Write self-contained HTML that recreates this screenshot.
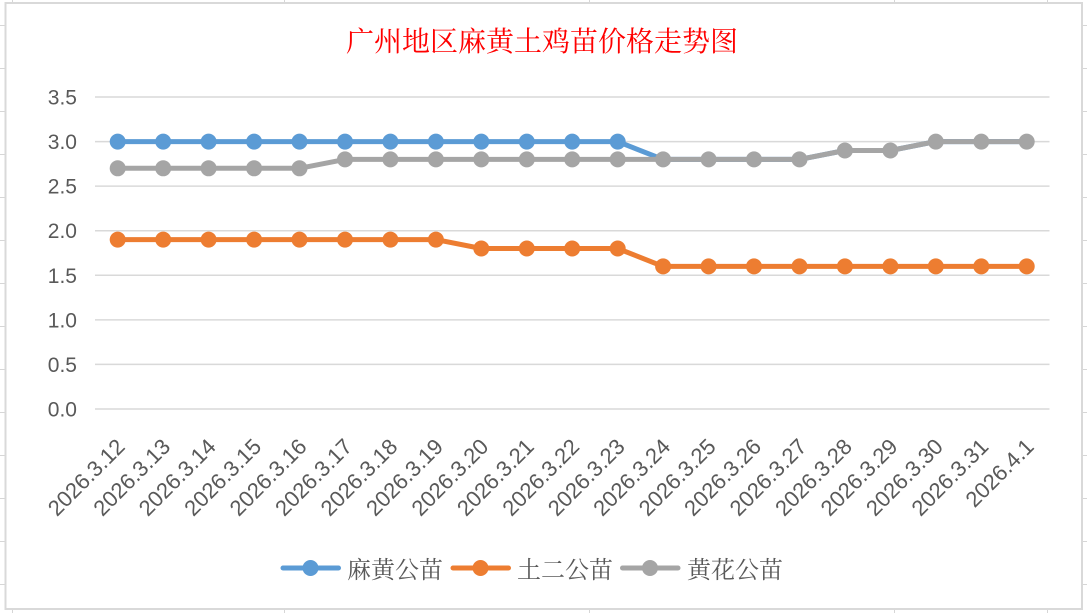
<!DOCTYPE html>
<html>
<head>
<meta charset="utf-8">
<style>
  html, body { margin:0; padding:0; background:#ffffff; }
  body { width:1087px; height:613px; overflow:hidden; }
  svg { display:block; }
  .yl { font-family:"Liberation Sans", sans-serif; font-size:21px; fill:#595959; }
  .xl { font-family:"Liberation Sans", sans-serif; font-size:22px; fill:#595959; }
  .lg { font-family:"Liberation Serif", "Noto Serif CJK SC", serif; font-size:24px; fill:#595959; }
  .tt { font-family:"Liberation Serif", "Noto Serif CJK SC", serif; font-size:28px; fill:#ff0000; }
</style>
</head>
<body>
<svg width="1087" height="613" viewBox="0 0 1087 613" xmlns="http://www.w3.org/2000/svg">
  <!-- spreadsheet grid in margins -->
  <g stroke="#d6d6d6" stroke-width="1">
    <line x1="0" y1="25.5" x2="1087" y2="25.5"/>
    <line x1="0" y1="68.5" x2="1087" y2="68.5"/>
    <line x1="0" y1="111.5" x2="1087" y2="111.5"/>
    <line x1="0" y1="154.5" x2="1087" y2="154.5"/>
    <line x1="0" y1="197.5" x2="1087" y2="197.5"/>
    <line x1="0" y1="240.5" x2="1087" y2="240.5"/>
    <line x1="0" y1="283.5" x2="1087" y2="283.5"/>
    <line x1="0" y1="326.5" x2="1087" y2="326.5"/>
    <line x1="0" y1="369.5" x2="1087" y2="369.5"/>
    <line x1="0" y1="412.5" x2="1087" y2="412.5"/>
    <line x1="0" y1="455.5" x2="1087" y2="455.5"/>
    <line x1="0" y1="498.5" x2="1087" y2="498.5"/>
    <line x1="0" y1="541.5" x2="1087" y2="541.5"/>
    <line x1="0" y1="584.5" x2="1087" y2="584.5"/>
    <line x1="12.5" y1="0" x2="12.5" y2="613"/>
    <line x1="284.5" y1="0" x2="284.5" y2="613"/>
    <line x1="589.5" y1="0" x2="589.5" y2="613"/>
    <line x1="894.5" y1="0" x2="894.5" y2="613"/>
    <line x1="1047.5" y1="0" x2="1047.5" y2="613"/>
  </g>

  <!-- chart area -->
  <rect x="5.5" y="3" width="1076.5" height="606" fill="#ffffff" stroke="#d9d9d9" stroke-width="2"/>

  <!-- title -->
  <text class="tt" x="542" y="51" text-anchor="middle">广州地区麻黄土鸡苗价格走势图</text>

  <!-- horizontal gridlines -->
  <g stroke="#d9d9d9" stroke-width="1.5">
    <line x1="95" y1="97" x2="1049.5" y2="97"/>
    <line x1="95" y1="141.6" x2="1049.5" y2="141.6"/>
    <line x1="95" y1="186.1" x2="1049.5" y2="186.1"/>
    <line x1="95" y1="230.7" x2="1049.5" y2="230.7"/>
    <line x1="95" y1="275.3" x2="1049.5" y2="275.3"/>
    <line x1="95" y1="319.9" x2="1049.5" y2="319.9"/>
    <line x1="95" y1="364.4" x2="1049.5" y2="364.4"/>
    <line x1="95" y1="409" x2="1049.5" y2="409"/>
  </g>

  <!-- y labels -->
  <g class="yl" text-anchor="end">
    <text x="77" y="104.5">3.5</text>
    <text x="77" y="149.1">3.0</text>
    <text x="77" y="193.6">2.5</text>
    <text x="77" y="238.2">2.0</text>
    <text x="77" y="282.8">1.5</text>
    <text x="77" y="327.4">1.0</text>
    <text x="77" y="371.9">0.5</text>
    <text x="77" y="416.5">0.0</text>
  </g>

  <!-- x labels -->
  <g class="xl" text-anchor="end">
    <text transform="translate(126.2,448) rotate(-45)">2026.3.12</text>
    <text transform="translate(171.7,448) rotate(-45)">2026.3.13</text>
    <text transform="translate(217.1,448) rotate(-45)">2026.3.14</text>
    <text transform="translate(262.6,448) rotate(-45)">2026.3.15</text>
    <text transform="translate(308.0,448) rotate(-45)">2026.3.16</text>
    <text transform="translate(353.5,448) rotate(-45)">2026.3.17</text>
    <text transform="translate(398.9,448) rotate(-45)">2026.3.18</text>
    <text transform="translate(444.4,448) rotate(-45)">2026.3.19</text>
    <text transform="translate(489.8,448) rotate(-45)">2026.3.20</text>
    <text transform="translate(535.3,448) rotate(-45)">2026.3.21</text>
    <text transform="translate(580.7,448) rotate(-45)">2026.3.22</text>
    <text transform="translate(626.2,448) rotate(-45)">2026.3.23</text>
    <text transform="translate(671.6,448) rotate(-45)">2026.3.24</text>
    <text transform="translate(717.1,448) rotate(-45)">2026.3.25</text>
    <text transform="translate(762.5,448) rotate(-45)">2026.3.26</text>
    <text transform="translate(808.0,448) rotate(-45)">2026.3.27</text>
    <text transform="translate(853.4,448) rotate(-45)">2026.3.28</text>
    <text transform="translate(898.9,448) rotate(-45)">2026.3.29</text>
    <text transform="translate(944.3,448) rotate(-45)">2026.3.30</text>
    <text transform="translate(989.8,448) rotate(-45)">2026.3.31</text>
    <text transform="translate(1035.2,448) rotate(-45)">2026.4.1</text>
  </g>

  <!-- Series: 麻黄公苗 (blue) -->
  <g fill="#5B9BD5">
    <polyline fill="none" stroke="#5B9BD5" stroke-width="5" stroke-linejoin="round" stroke-linecap="round"
      points="117.7,141.6 163.2,141.6 208.6,141.6 254.1,141.6 299.5,141.6 345.0,141.6 390.4,141.6 435.9,141.6 481.3,141.6 526.8,141.6 572.2,141.6 617.7,141.6 663.1,159.4 708.6,159.4 754.0,159.4 799.5,159.4 844.9,150.5 890.4,150.5 935.8,141.6 981.3,141.6 1026.7,141.6"/>
    <circle cx="117.7" cy="141.6" r="8"/><circle cx="163.2" cy="141.6" r="8"/><circle cx="208.6" cy="141.6" r="8"/>
    <circle cx="254.1" cy="141.6" r="8"/><circle cx="299.5" cy="141.6" r="8"/><circle cx="345.0" cy="141.6" r="8"/>
    <circle cx="390.4" cy="141.6" r="8"/><circle cx="435.9" cy="141.6" r="8"/><circle cx="481.3" cy="141.6" r="8"/>
    <circle cx="526.8" cy="141.6" r="8"/><circle cx="572.2" cy="141.6" r="8"/><circle cx="617.7" cy="141.6" r="8"/>
  </g>

  <!-- Series: 土二公苗 (orange) -->
  <g fill="#ED7D31">
    <polyline fill="none" stroke="#ED7D31" stroke-width="5" stroke-linejoin="round" stroke-linecap="round"
      points="117.7,239.6 163.2,239.6 208.6,239.6 254.1,239.6 299.5,239.6 345.0,239.6 390.4,239.6 435.9,239.6 481.3,248.5 526.8,248.5 572.2,248.5 617.7,248.5 663.1,266.4 708.6,266.4 754.0,266.4 799.5,266.4 844.9,266.4 890.4,266.4 935.8,266.4 981.3,266.4 1026.7,266.4"/>
    <circle cx="117.7" cy="239.6" r="8"/><circle cx="163.2" cy="239.6" r="8"/><circle cx="208.6" cy="239.6" r="8"/>
    <circle cx="254.1" cy="239.6" r="8"/><circle cx="299.5" cy="239.6" r="8"/><circle cx="345.0" cy="239.6" r="8"/>
    <circle cx="390.4" cy="239.6" r="8"/><circle cx="435.9" cy="239.6" r="8"/><circle cx="481.3" cy="248.5" r="8"/>
    <circle cx="526.8" cy="248.5" r="8"/><circle cx="572.2" cy="248.5" r="8"/><circle cx="617.7" cy="248.5" r="8"/>
    <circle cx="663.1" cy="266.4" r="8"/><circle cx="708.6" cy="266.4" r="8"/><circle cx="754.0" cy="266.4" r="8"/>
    <circle cx="799.5" cy="266.4" r="8"/><circle cx="844.9" cy="266.4" r="8"/><circle cx="890.4" cy="266.4" r="8"/>
    <circle cx="935.8" cy="266.4" r="8"/><circle cx="981.3" cy="266.4" r="8"/><circle cx="1026.7" cy="266.4" r="8"/>
  </g>

  <!-- Series: 黄花公苗 (gray) -->
  <g fill="#A5A5A5">
    <polyline fill="none" stroke="#A5A5A5" stroke-width="5" stroke-linejoin="round" stroke-linecap="round"
      points="117.7,168.3 163.2,168.3 208.6,168.3 254.1,168.3 299.5,168.3 345.0,159.4 390.4,159.4 435.9,159.4 481.3,159.4 526.8,159.4 572.2,159.4 617.7,159.4 663.1,159.4 708.6,159.4 754.0,159.4 799.5,159.4 844.9,150.5 890.4,150.5 935.8,141.6 981.3,141.6 1026.7,141.6"/>
    <circle cx="117.7" cy="168.3" r="8"/><circle cx="163.2" cy="168.3" r="8"/><circle cx="208.6" cy="168.3" r="8"/>
    <circle cx="254.1" cy="168.3" r="8"/><circle cx="299.5" cy="168.3" r="8"/><circle cx="345.0" cy="159.4" r="8"/>
    <circle cx="390.4" cy="159.4" r="8"/><circle cx="435.9" cy="159.4" r="8"/><circle cx="481.3" cy="159.4" r="8"/>
    <circle cx="526.8" cy="159.4" r="8"/><circle cx="572.2" cy="159.4" r="8"/><circle cx="617.7" cy="159.4" r="8"/>
    <circle cx="663.1" cy="159.4" r="8"/><circle cx="708.6" cy="159.4" r="8"/><circle cx="754.0" cy="159.4" r="8"/>
    <circle cx="799.5" cy="159.4" r="8"/><circle cx="844.9" cy="150.5" r="8"/><circle cx="890.4" cy="150.5" r="8"/>
    <circle cx="935.8" cy="141.6" r="8"/><circle cx="981.3" cy="141.6" r="8"/><circle cx="1026.7" cy="141.6" r="8"/>
  </g>

  <!-- legend -->
  <g stroke-width="5" stroke-linecap="round">
    <line x1="283" y1="568" x2="338.5" y2="568" stroke="#5B9BD5"/>
    <line x1="453" y1="568" x2="508.5" y2="568" stroke="#ED7D31"/>
    <line x1="622.5" y1="568" x2="678" y2="568" stroke="#A5A5A5"/>
  </g>
  <circle cx="310.5" cy="568" r="8" fill="#5B9BD5"/>
  <circle cx="480.5" cy="568" r="8" fill="#ED7D31"/>
  <circle cx="650" cy="568" r="8" fill="#A5A5A5"/>
  <text class="lg" x="347" y="578">麻黄公苗</text>
  <text class="lg" x="517" y="578">土二公苗</text>
  <text class="lg" x="687" y="578">黄花公苗</text>
</svg>
</body>
</html>
